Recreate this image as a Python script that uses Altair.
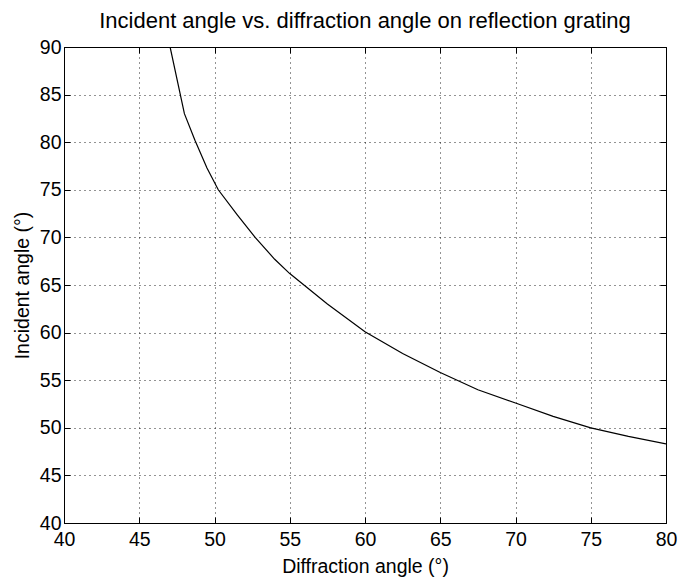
import altair as alt
import pandas as pd

# Values
diffraction = [47.05, 48.0, 48.7, 49.5, 50.25, 51.5, 52.7, 54.0, 55.0, 57.5,
               60.0, 62.5, 65.0, 67.5, 70.0, 72.5, 75.0, 77.5, 80.0]
incident = [90.0, 83.0, 80.2, 77.3, 75.0, 72.4, 70.0, 67.7, 66.2, 63.0,
            60.1, 57.8, 55.8, 54.0, 52.6, 51.2, 50.0, 49.1, 48.3]
x_ticks = [40, 45, 50, 55, 60, 65, 70, 75, 80]
y_ticks = [40, 45, 50, 55, 60, 65, 70, 75, 80, 85, 90]

df = pd.DataFrame({"diffraction": diffraction, "incident": incident})
FONT = "Liberation Sans"

xs = alt.Scale(domain=[40, 80], nice=False, zero=False)
ys = alt.Scale(domain=[40, 90], nice=False, zero=False)

base = alt.Chart(df)

line = base.mark_line(color="black", strokeWidth=1.2, clip=True).encode(
    x=alt.X("diffraction:Q", scale=xs,
            axis=alt.Axis(values=x_ticks, title="Diffraction angle (°)", grid=True,
                          ticks=False, domain=False, labelPadding=7, titlePadding=9,
                          labelFlush=False)),
    y=alt.Y("incident:Q", scale=ys,
            axis=alt.Axis(values=y_ticks, title="Incident angle (°)", grid=True,
                          ticks=False, domain=False, labelPadding=3, titlePadding=7,
                          labelFlush=False)),
)

def tick_axis(orient, values):
    return alt.Axis(orient=orient, values=values, offset=-6, tickSize=6, labels=False,
                    domain=False, grid=False, title=None, tickColor="black", tickWidth=1)

ticks_tr = base.mark_line(opacity=0).encode(
    x=alt.X("diffraction:Q", scale=xs, axis=tick_axis("top", x_ticks)),
    y=alt.Y("incident:Q", scale=ys, axis=tick_axis("right", y_ticks)),
)
ticks_bl = base.mark_line(opacity=0).encode(
    x=alt.X("diffraction:Q", scale=xs, axis=tick_axis("bottom", x_ticks)),
    y=alt.Y("incident:Q", scale=ys, axis=tick_axis("left", y_ticks)),
)

chart = alt.layer(line, ticks_tr, ticks_bl).resolve_axis(
    x="independent", y="independent"
).properties(
    width=602,
    height=476,
    background="white",
    autosize=alt.AutoSizeParams(type="none"),
    padding={"left": 64, "top": 47, "right": 12, "bottom": 58},
    title=alt.TitleParams("Incident angle vs. diffraction angle on reflection grating",
                          fontSize=22, font=FONT, fontWeight="normal", offset=4,
                          anchor="middle", color="black"),
).configure_view(
    stroke="black", strokeWidth=1
).configure_axis(
    labelFont=FONT, titleFont=FONT, labelFontSize=19.5, titleFontSize=19.5,
    titleFontWeight="normal", labelColor="black", titleColor="black",
    gridColor="black", gridDash=[1, 4], gridOpacity=0.85, gridWidth=1,
)

chart.save("out.html", embed_options={"renderer": "svg", "actions": False})
